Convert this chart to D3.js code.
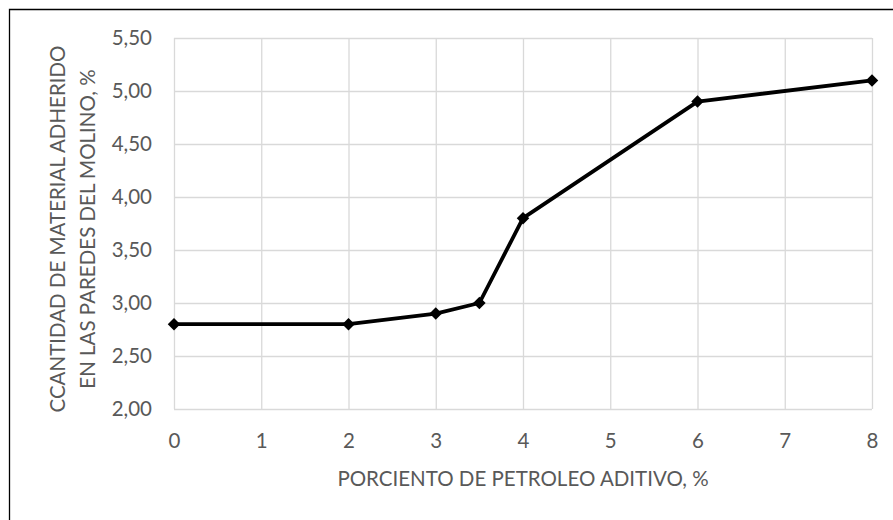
<!DOCTYPE html>
<html><head><meta charset="utf-8">
<script src="https://cdn.jsdelivr.net/npm/d3@7"></script>
<style>body{margin:0;background:#fff}svg{display:block}</style>
</head><body><svg id="c" width="893" height="520"></svg>
<script>
const xValues = [0, 2, 3, 3.5, 4, 6, 8];
const yValues = [2.8, 2.8, 2.9, 3.0, 3.8, 4.9, 5.1];
const xTicks = [0, 1, 2, 3, 4, 5, 6, 7, 8];
const yTicks = [2.0, 2.5, 3.0, 3.5, 4.0, 4.5, 5.0, 5.5];
const xTitle = "PORCIENTO DE PETROLEO ADITIVO, %";
const yTitleLines = ["CCANTIDAD DE MATERIAL ADHERIDO", "EN LAS PAREDES DEL MOLINO, %"];

const svg = d3.select("#c");
const font = "Lato, 'Open Sans', sans-serif";
const fs = 20.5;
const txt = "#595959";
const L = 174, R = 872, T = 38, B = 409;
const x = d3.scaleLinear().domain([0, 8]).range([L, R]);
const y = d3.scaleLinear().domain([2, 5.5]).range([B, T]);

// outer frame
svg.append("path").attr("d", "M9.5,520 V9.5 H893").attr("fill", "none").attr("stroke", "#000").attr("stroke-width", 1.3);

// gridlines + tick labels
const gx = svg.append("g").attr("transform", `translate(0,${B})`)
  .call(d3.axisBottom(x).tickValues(xTicks).tickSize(-(B - T)).tickFormat(d => d).tickPadding(24));
const gy = svg.append("g").attr("transform", `translate(${L},0)`)
  .call(d3.axisLeft(y).tickValues(yTicks).tickSize(-(R - L)).tickFormat(d => d3.format(".2f")(d).replace(".", ",")).tickPadding(22));
[gx, gy].forEach(g => {
  g.select(".domain").remove();
  g.selectAll(".tick line").attr("stroke", "#d9d9d9").attr("stroke-width", 1.3);
  g.selectAll(".tick text").attr("fill", txt).attr("font-family", font).attr("font-size", fs);
});
gx.selectAll(".tick text").attr("y", 24).attr("dy", "0.75em");

// line
const line = d3.line().x((d, i) => x(xValues[i])).y(d => y(d));
svg.append("path").datum(yValues).attr("d", line).attr("fill", "none").attr("stroke", "#000").attr("stroke-width", 3.8).attr("stroke-linejoin", "round");

// markers
svg.append("g").selectAll("path").data(yValues).join("path")
  .attr("transform", (d, i) => `translate(${x(xValues[i])},${y(d)})`)
  .attr("d", d3.symbol().type(d3.symbolDiamond2).size(100))
  .attr("fill", "#000");

// x title
svg.append("text").attr("x", 523).attr("y", 486).attr("text-anchor", "middle")
  .attr("fill", txt).attr("font-family", font).attr("font-size", fs).text(xTitle);

// y title
const yt = svg.append("text").attr("transform", `translate(0,229) rotate(-90)`)
  .attr("text-anchor", "middle").attr("fill", txt).attr("font-family", font).attr("font-size", fs);
yTitleLines.forEach((t, i) => yt.append("tspan").attr("x", 0).attr("y", 65 + i * 30).text(t));
</script></body></html>
